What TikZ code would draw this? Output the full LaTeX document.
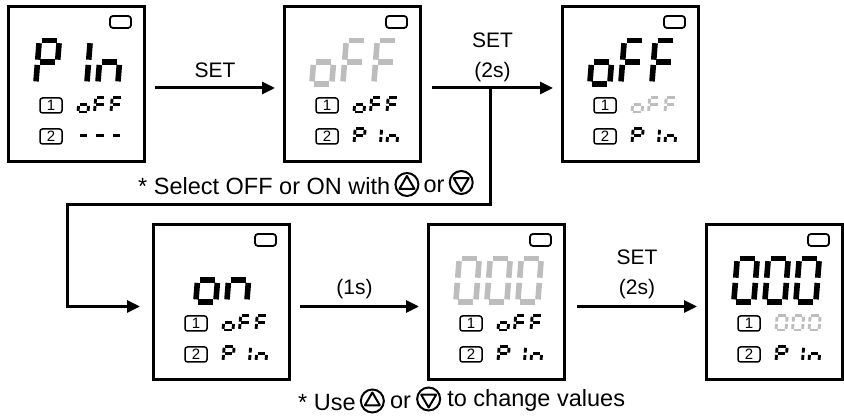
\documentclass[tikz,border=0pt]{standalone}
\usepackage{fontspec}
\setmainfont{Liberation Sans}
\usetikzlibrary{positioning,arrows.meta}

\definecolor{segoff}{gray}{0.74}

\tikzset{
  panel/.style={draw, line width=3pt, minimum width=136pt, minimum height=155pt, inner sep=0pt, outer sep=0pt},
  lamp/.style={draw, line width=1.8pt, rounded corners=3pt, minimum width=21pt, minimum height=12pt, inner sep=0pt},
  keybox/.style={draw, line width=1.5pt, rounded corners=2.5pt, minimum width=22pt, minimum height=15pt, inner sep=0pt, font=\fontsize{15}{15}\selectfont},
  flow/.style={line width=3pt, -{Triangle[length=13pt,width=12pt]}},
  lbl/.style={inner sep=0pt, align=center, font=\fontsize{21}{30}\selectfont},
  note/.style={inner sep=0pt, text height=16pt, text depth=0pt, font=\fontsize{23.5}{26}\selectfont},
  dial/.style={draw, circle, line width=2pt, minimum size=23pt, inner sep=0pt, yshift=2pt},
  updial/.style={dial, path picture={\draw[line width=2pt, line join=round]
      ([shift={(0,-8.5)}]path picture bounding box.center) -- ++(7.5,12.8) -- ++(-15,0) -- cycle;}},
  downdial/.style={dial, path picture={\draw[line width=2pt, line join=round]
      ([shift={(0,8.5)}]path picture bounding box.center) -- ++(7.5,-12.8) -- ++(-15,0) -- cycle;}},
  bigseg/.style={line width=5.6pt, shorten <=2.6pt, shorten >=2.6pt},
  smallseg/.style={line width=2.9pt, shorten <=1.2pt, shorten >=1.2pt},
}

% seven segment row: origin, pitch, width, half height, style, list of characters
\newcommand{\lcdrow}[6]{%
  \foreach \segs [count=\k from 0] in {#6}{%
    \begin{scope}[shift={#1}, xshift=\k*#2, x=#3, y=#4, xslant=0.08]
      \coordinate (a1) at (0,2); \coordinate (a2) at (1,2);
      \coordinate (b1) at (1,2); \coordinate (b2) at (1,1);
      \coordinate (c1) at (1,1); \coordinate (c2) at (1,0);
      \coordinate (d1) at (0,0); \coordinate (d2) at (1,0);
      \coordinate (e1) at (0,0); \coordinate (e2) at (0,1);
      \coordinate (f1) at (0,1); \coordinate (f2) at (0,2);
      \coordinate (g1) at (0,1); \coordinate (g2) at (1,1);
      \foreach \s in \segs {\draw[#5] (\s1) -- (\s2);}
    \end{scope}}}
\newcommand{\bigrow}[3]{\lcdrow{#1}{31}{20pt}{21.7pt}{bigseg,#2}{#3}}
\newcommand{\smallrow}[3]{\lcdrow{#1}{16.5}{10pt}{7.2pt}{smallseg,#2}{#3}}

% lamp and key boxes of one panel
\newcommand{\panelparts}[1]{%
  \begin{scope}[shift={(#1.north west)}]
    \node[lamp] (#1-lamp) at (112.5,15) {};
    \node[keybox] (#1-key1) at (43,98.5) {1};
    \node[keybox] (#1-key2) at (43,129.5) {2};
  \end{scope}}

\begin{document}
\begin{tikzpicture}[x=1pt, y=-1pt]
  \useasboundingbox (0,0) rectangle (844,419);

  % panels
  \node[panel, anchor=north west] (p1) at (8,7) {};
  \node[panel, anchor=north west] (p2) at (284,7) {};
  \node[panel, anchor=north west] (p3) at (562,7) {};
  \node[panel, anchor=north west] (p4) at (153,225) {};
  \node[panel, anchor=north west] (p5) at (428,225) {};
  \node[panel, anchor=north west] (p6) at (706,225) {};
  \foreach \p in {p1,p2,p3,p4,p5,p6} {\panelparts{\p}}

  % P In
  \begin{scope}[shift={(p1.north west)}]
    \bigrow{(27.8,77)}{black}{{a,b,e,f,g},{b,c},{c,e,g}}
    \smallrow{(70,105)}{black}{{c,d,e,g},{a,e,f,g},{a,e,f,g}}
    \smallrow{(70,136)}{black}{{g},{g},{g}}
  \end{scope}
  % oFF blinking
  \begin{scope}[shift={(p2.north west)}]
    \bigrow{(27.8,77)}{segoff}{{c,d,e,g},{a,e,f,g},{a,e,f,g}}
    \smallrow{(70,105)}{black}{{c,d,e,g},{a,e,f,g},{a,e,f,g}}
    \smallrow{(70,136)}{black}{{a,b,e,f,g},{b,c},{c,e,g}}
  \end{scope}
  % oFF set
  \begin{scope}[shift={(p3.north west)}]
    \bigrow{(27.8,77)}{black}{{c,d,e,g},{a,e,f,g},{a,e,f,g}}
    \smallrow{(70,105)}{segoff}{{c,d,e,g},{a,e,f,g},{a,e,f,g}}
    \smallrow{(70,136)}{black}{{a,b,e,f,g},{b,c},{c,e,g}}
  \end{scope}
  % on
  \begin{scope}[shift={(p4.north west)}]
    \bigrow{(42.8,77)}{black}{{c,d,e,g},{c,e,g}}
    \smallrow{(70,105)}{black}{{c,d,e,g},{a,e,f,g},{a,e,f,g}}
    \smallrow{(70,136)}{black}{{a,b,e,f,g},{b,c},{c,e,g}}
  \end{scope}
  % 000 blinking
  \begin{scope}[shift={(p5.north west)}]
    \bigrow{(27.8,77)}{segoff}{{a,b,c,d,e,f},{a,b,c,d,e,f},{a,b,c,d,e,f}}
    \smallrow{(70,105)}{black}{{c,d,e,g},{a,e,f,g},{a,e,f,g}}
    \smallrow{(70,136)}{black}{{a,b,e,f,g},{b,c},{c,e,g}}
  \end{scope}
  % 000 set
  \begin{scope}[shift={(p6.north west)}]
    \bigrow{(27.8,77)}{black}{{a,b,c,d,e,f},{a,b,c,d,e,f},{a,b,c,d,e,f}}
    \smallrow{(70,105)}{segoff}{{a,b,c,d,e,f},{a,b,c,d,e,f},{a,b,c,d,e,f}}
    \smallrow{(70,136)}{black}{{a,b,e,f,g},{b,c},{c,e,g}}
  \end{scope}

  % arrows
  \draw[flow] ([shift={(11,3.5)}]p1.east) -- ([shift={(-9,3.5)}]p2.west)
    node[lbl, midway, above=9pt] (set1) {SET};
  \draw[flow] ([shift={(12,3.5)}]p2.east) -- ([shift={(-9,3.5)}]p3.west)
    node[lbl, midway, above=5pt] (set2) {SET\\(2s)};
  \coordinate (split) at ([shift={(70,3.5)}]p2.east);
  \coordinate (bend) at (67,205);
  \draw[flow] (split) |- (bend) |- ([shift={(-13,4)}]p4.west);
  \draw[flow] ([shift={(11,4)}]p4.east) -- ([shift={(-9,4)}]p5.west)
    node[lbl, midway, above=6pt, xshift=-5pt] (wait1) {(1s)};
  \draw[flow] ([shift={(13,4)}]p5.east) -- ([shift={(-9,4)}]p6.west)
    node[lbl, midway, above=6pt] (set3) {SET\\(2s)};

  % notes
  \node[note, anchor=base west] (selnote) at (138,194.5) {* Select OFF or ON with};
  \node[updial, right=4pt of selnote] (selup) {};
  \node[note, right=4pt of selup] (selor) {or};
  \node[downdial, right=4pt of selor] (seldown) {};

  \node[note, anchor=base west] (usenote) at (298,411) {* Use};
  \node[updial, right=4pt of usenote] (useup) {};
  \node[note, right=5pt of useup] (useor) {or};
  \node[downdial, right=5pt of useor] (usedown) {};
  \node[note, right=6pt of usedown] (usetail) {to change values};
\end{tikzpicture}
\end{document}
